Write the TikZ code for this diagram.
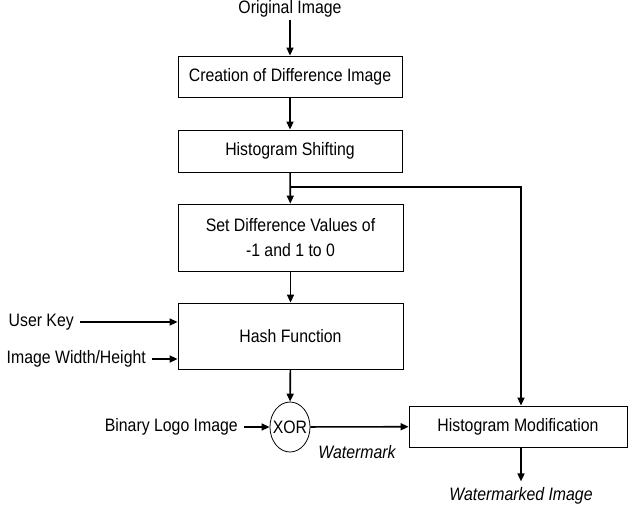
\documentclass[tikz,border=0pt]{standalone}
\usepackage{fontspec}
\setmainfont{Liberation Sans}[FakeStretch=0.88]
\usetikzlibrary{arrows.meta,positioning,shapes.geometric}

\begin{document}
\begin{tikzpicture}[x=1pt,y=-1pt,>={Triangle[length=8pt,width=7pt]},
  font=\fontsize{18}{25}\selectfont]
  \tikzstyle{block}=[draw,line width=0.8pt,align=center,inner sep=0pt]
  \tikzstyle{flow}=[->,line width=1.6pt]
  \tikzstyle{label}=[inner sep=2pt]
  \tikzstyle{src}=[anchor=east,inner ysep=2pt,inner xsep=6pt]

  \useasboundingbox (0,0) rectangle (630,512);

  \node[label]            (orig)   at (290,9)     {Original Image};
  \node[block, minimum width=224, minimum height=41] (diff)   at (290,76.5)  {Creation of Difference Image};
  \node[block, minimum width=224, minimum height=42] (shift)  at (290,151)   {Histogram Shifting};
  \node[block, minimum width=225, minimum height=67] (setval) at (290.5,237.5) {Set Difference Values of\\-1 and 1 to 0};
  \node[block, minimum width=225, minimum height=66] (hash)   at (290.5,336) {Hash Function};
  \node[src] (userkey) at (80,322)  {User Key};
  \node[src] (imgwh)   at (152,359) {Image Width/Height};
  \node[draw, ellipse, line width=0.8pt, inner xsep=-3pt, inner ysep=0pt,
        minimum width=35, minimum height=50] (xor) at (290,427) {XOR};
  \node[src] (logo)    at (244,427) {Binary Logo Image};
  \node[block, minimum width=218, minimum height=41] (hmod) at (518,426.5) {Histogram Modification};
  \node[label, font=\fontsize{18}{20}\selectfont\itshape] (wmk)   at (357,452) {Watermark};
  \node[label, font=\fontsize{18}{20}\selectfont\itshape, inner ysep=6pt] (wmimg) at (521,496) {Watermarked Image};
  \coordinate (br) at (290,187);

  %% main chain
  \draw[flow] (orig)  -- (diff);
  \draw[flow] (diff)  -- (shift);
  \draw[flow] (shift) -- (setval);
  \draw[flow] (setval) -- (hash);
  \draw[flow] (hash)  -- (xor);

  %% side inputs
  \draw[flow] (userkey) -- (hash.west |- userkey);
  \draw[flow] (imgwh)   -- (hash.west |- imgwh);
  \draw[flow] (logo)    -- (xor);

  %% embedding
  \draw[line width=1.6pt,->] (br) -| ([xshift=3]hmod.north);
  \draw[flow] (xor) -- (hmod);
  \draw[flow] ([xshift=3]hmod.south) -- ([xshift=3]hmod.south |- wmimg.north);
\end{tikzpicture}
\end{document}
